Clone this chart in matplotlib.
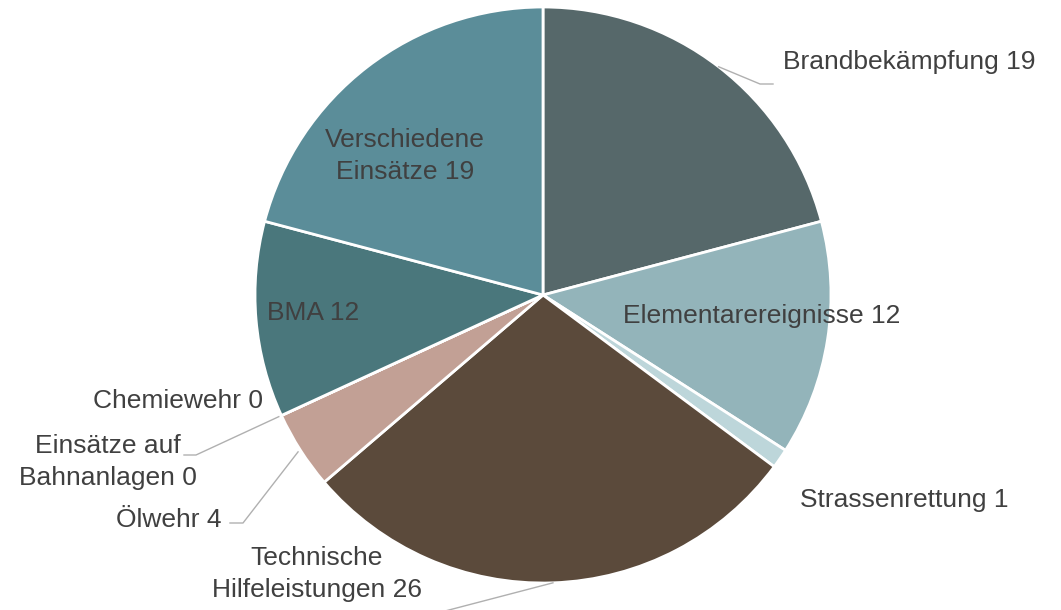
import matplotlib
matplotlib.use("Agg")
import matplotlib.pyplot as plt
import numpy as np

plt.rcParams['font.family'] = ['Liberation Sans', 'DejaVu Sans']

categories = ["Brandbekämpfung", "Elementarereignisse", "Strassenrettung",
              "Technische Hilfeleistungen", "Ölwehr", "Einsätze auf Bahnanlagen",
              "Chemiewehr", "BMA", "Verschiedene Einsätze"]
# wedge sizes as drawn in the chart
sizes = [19, 12, 1, 26, 4, 0, 0, 10, 19]
# numbers printed in the labels
label_values = [19, 12, 1, 26, 4, 0, 0, 12, 19]
colors = ["#56686a", "#93b4ba", "#bdd6da", "#5b4a3b", "#c2a095",
          "#c2a095", "#4a777c", "#4a777c", "#5b8d99"]

text_color = "#404040"
line_color = "#b0b0b0"

fig = plt.figure(figsize=(10.61, 6.10), dpi=100)
ax = fig.add_axes([0, 0, 1, 1])

cx, cy, r = 543, 295, 288
wedges, _ = ax.pie(sizes, colors=colors, center=(cx, cy), radius=r,
                   startangle=-90, counterclock=True,
                   wedgeprops=dict(edgecolor="white", linewidth=2))

ax.set_xlim(0, 1061)
ax.set_ylim(610, 0)
ax.set_aspect("equal")
ax.axis("off")


def anchor(i, k=1.0):
    w = wedges[i]
    a = np.deg2rad((w.theta1 + w.theta2) / 2)
    return cx + r * k * np.cos(a), cy + r * k * np.sin(a)


def lab(i):
    return f"{categories[i]} {label_values[i]}"


fs = 19
ls = 1.38

# Brandbekämpfung
x0, y0 = anchor(0)
ax.plot([x0, 760, 773], [y0, 84, 84], color=line_color, lw=1)
ax.text(783, 62, lab(0), ha="left", va="center", fontsize=fs, color=text_color)

# Elementarereignisse (inside)
ax.text(762, 316, lab(1), ha="center", va="center", fontsize=fs, color=text_color)

# Strassenrettung
ax.text(800, 500, lab(2), ha="left", va="center", fontsize=fs, color=text_color)

# Technische Hilfeleistungen
x0, y0 = anchor(3)
ax.plot([x0, 380], [y0, 628], color=line_color, lw=1, clip_on=False)
ax.text(317, 574, "Technische\nHilfeleistungen " + str(label_values[3]),
        ha="center", va="center", fontsize=fs, color=text_color, linespacing=ls)

# Ölwehr
x0, y0 = anchor(4, 1.01)
ax.plot([x0, 243, 230], [y0, 523, 523], color=line_color, lw=1)
ax.text(222, 520, lab(4), ha="right", va="center", fontsize=fs, color=text_color)

# Einsätze auf Bahnanlagen
x0, y0 = anchor(5, 1.01)
ax.plot([x0, 196, 184], [y0, 455, 455], color=line_color, lw=1)
ax.text(108, 462, "Einsätze auf\nBahnanlagen " + str(label_values[5]),
        ha="center", va="center", fontsize=fs, color=text_color, linespacing=ls)

# Chemiewehr
ax.text(263, 401, lab(6), ha="right", va="center", fontsize=fs, color=text_color)

# BMA (inside)
ax.text(313, 313, lab(7), ha="center", va="center", fontsize=fs, color=text_color)

# Verschiedene Einsätze (inside)
ax.text(405, 156, "Verschiedene\nEinsätze " + str(label_values[8]),
        ha="center", va="center", fontsize=fs, color=text_color, linespacing=ls)

fig.savefig("out.png", dpi=100, facecolor="white")
